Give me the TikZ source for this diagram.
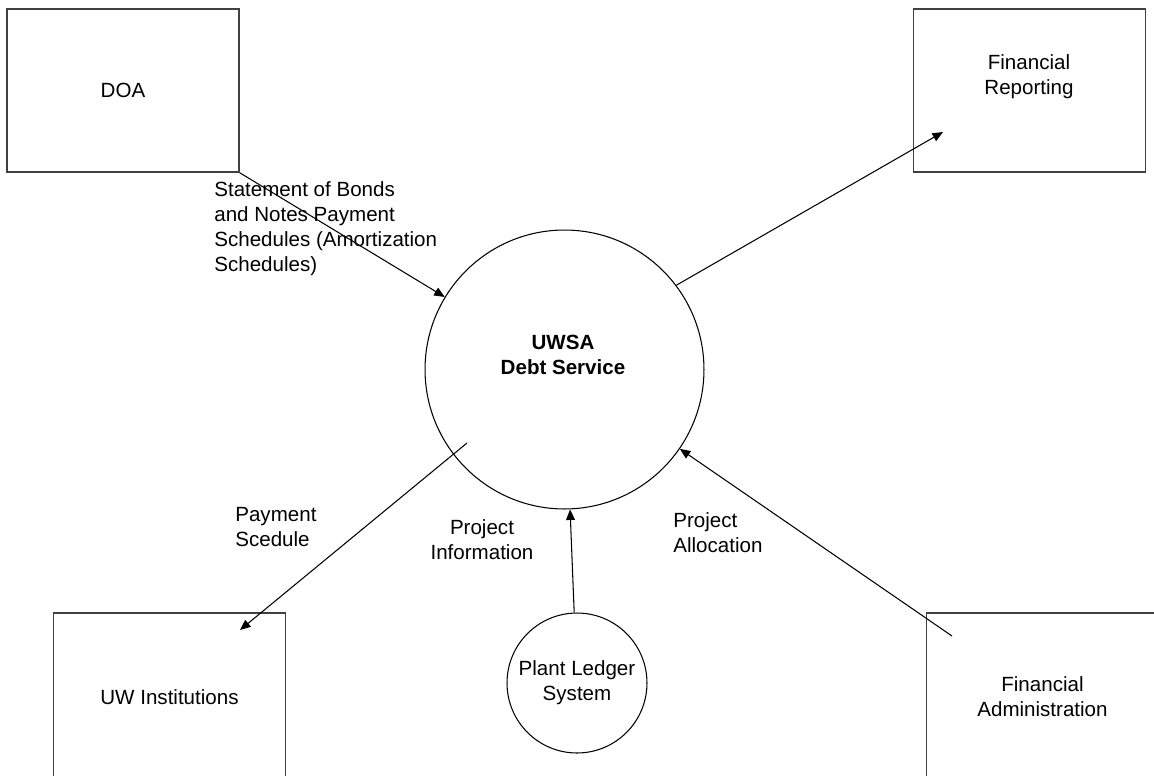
\documentclass[tikz,border=0pt]{standalone}
\usepackage{fontspec}
\setmainfont{Liberation Sans}
\usetikzlibrary{arrows.meta}

\begin{document}
\begin{tikzpicture}[x=0.02cm,y=-0.02cm,>={Triangle[length=6pt,width=5pt]},font=\fontsize{11.7}{14.2}\selectfont]
		\tikzstyle{box}=[draw=black!75,line width=0.9pt,minimum width=4.64cm,minimum height=3.26cm,align=center]
		\tikzstyle{unit}=[draw,shape=circle,line width=0.6pt,inner sep=0pt,align=center]
		\tikzstyle{flow}=[inner sep=0pt]

		\useasboundingbox (0,0) rectangle (1154,775);

		\node[box](doa) at (123,90.5){DOA};
		\node[box](fr) at (1029.5,90.5){};
		\node[flow,align=center](frtext) at (1029,77){Financial\\Reporting};
		\node[box,minimum height=3.36cm](uw) at (169.5,697){UW Institutions};
		\node[box,minimum height=3.36cm](fa) at (1042.5,697){Financial\\Administration};

		\node[unit,minimum size=5.58cm](uwsa) at (564.5,369.5){};
		\node[flow,align=center,font=\fontsize{11.7}{14.2}\selectfont\bfseries](uwsatext) at (563,355){UWSA\\Debt Service};
		\node[unit,minimum size=2.8cm](plant) at (577,683){Plant Ledger\\System};

		\coordinate (frin) at (943,132);
		\coordinate (uwout) at (467,443);
		\coordinate (uwin) at (240,630);
		\coordinate (fain) at (952,636);

		\node[flow,anchor=west,align=left](bonds) at (214,229){Statement of Bonds\\and Notes Payment\\Schedules (Amortization\\Schedules)};
		\node[flow,anchor=west,align=left](payment) at (235,527){Payment\\Scedule};
		\node[flow,align=center](info) at (482,540){Project\\Information};
		\node[flow,anchor=west,align=left](alloc) at (673,533){Project\\Allocation};

		\draw[->,line width=0.6pt] (doa.south east) -- (uwsa);
		\draw[->,line width=0.6pt] (uwsa.37) -- (frin);
		\draw[->,line width=0.6pt] (uwout) -- (uwin);
		\draw[->,line width=0.6pt] (plant) -- (uwsa);
		\draw[->,line width=0.6pt] (fain) -- (uwsa);
	\end{tikzpicture}
\end{document}
